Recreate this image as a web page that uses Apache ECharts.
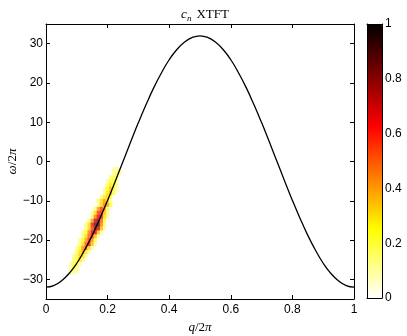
<!DOCTYPE html>
<html>
<head>
<meta charset="utf-8">
<script src="https://cdn.jsdelivr.net/npm/echarts@6/dist/echarts.min.js"></script>
<style>
html, body { margin: 0; padding: 0; background: #fff; }
#chart { width: 407px; height: 336px; }
</style>
</head>
<body>
<div id="chart"></div>
<script>
// dispersion curve
const qValues = [0, 0.025, 0.05, 0.075, 0.1, 0.125, 0.15, 0.175, 0.2, 0.225, 0.25,
  0.275, 0.3, 0.325, 0.35, 0.375, 0.4, 0.425, 0.45, 0.475, 0.5,
  0.525, 0.55, 0.575, 0.6, 0.625, 0.65, 0.675, 0.7, 0.725, 0.75,
  0.775, 0.8, 0.825, 0.85, 0.875, 0.9, 0.925, 0.95, 0.975, 1]
const omegaValues = [-32, -31.6, -30.4, -28.5, -25.9, -22.6, -18.8, -14.5, -9.9, -5, 0,
  5, 9.9, 14.5, 18.8, 22.6, 25.9, 28.5, 30.4, 31.6, 32,
  31.6, 30.4, 28.5, 25.9, 22.6, 18.8, 14.5, 9.9, 5, 0,
  -5, -9.9, -14.5, -18.8, -22.6, -25.9, -28.5, -30.4, -31.6, -32]

// spectral weight, one row per omega, cells 0.01 wide in q
const blobOmega = [-28, -27, -26, -25, -24, -23, -22, -21, -20, -19, -18, -17, -16, -15,
  -14, -13, -12, -11, -10, -9, -8, -7, -6, -5, -4, -3, -2]
const blobStart = [0.08, 0.08, 0.08, 0.09, 0.09, 0.10, 0.10, 0.11, 0.11, 0.12, 0.12, 0.13, 0.13, 0.14,
  0.15, 0.15, 0.16, 0.17, 0.17, 0.18, 0.19, 0.19, 0.20, 0.20, 0.21, 0.22, 0.22]
const blobWeight = [
  [0.12, 0.15, 0.1],
  [0.12, 0.2, 0.15],
  [0.1, 0.18, 0.25, 0.12],
  [0.15, 0.22, 0.3, 0.15],
  [0.12, 0.22, 0.32, 0.3, 0.12],
  [0.15, 0.3, 0.4, 0.28, 0.1],
  [0.12, 0.25, 0.42, 0.5, 0.3, 0.1],
  [0.15, 0.3, 0.5, 0.62, 0.35, 0.12],
  [0.12, 0.25, 0.4, 0.55, 0.42, 0.18],
  [0.15, 0.3, 0.5, 0.6, 0.35, 0.12],
  [0.12, 0.25, 0.45, 0.65, 0.7, 0.35, 0.12],
  [0.15, 0.3, 0.55, 0.8, 0.7, 0.35, 0.12],
  [0.12, 0.3, 0.6, 0.85, 0.9, 0.45, 0.15],
  [0.15, 0.4, 0.7, 0.8, 0.5, 0.2],
  [0.15, 0.45, 0.68, 0.6, 0.3, 0.12],
  [0.12, 0.3, 0.55, 0.6, 0.35, 0.15],
  [0.15, 0.4, 0.55, 0.4, 0.18],
  [0.12, 0.3, 0.45, 0.4, 0.2],
  [0.15, 0.3, 0.4, 0.3, 0.12],
  [0.15, 0.28, 0.32, 0.2],
  [0.12, 0.3, 0.35, 0.2],
  [0.12, 0.25, 0.35, 0.22, 0.1],
  [0.15, 0.28, 0.25, 0.12],
  [0.12, 0.22, 0.25, 0.12],
  [0.15, 0.2, 0.15],
  [0.12, 0.18, 0.12],
  [0.1, 0.12, 0.1]
]

const yTicks = [-30, -20, -10, 0, 10, 20, 30]
const cbTicks = [0, 0.2, 0.4, 0.6, 0.8, 1]
const hotColors = ['#ffffff', '#ffff80', '#ffff00', '#ffaa00', '#ff5500',
  '#ff0000', '#aa0000', '#550000', '#000000']

const cells = []
blobOmega.forEach((w, r) => {
  blobWeight[r].forEach((v, i) => {
    const q = Math.round((blobStart[r] + i * 0.01) * 1000) / 1000
    cells.push([q, w, v])
  })
})

const minus = v => String(v).replace('-', '\u2212')
const serif = 'Liberation Serif'
const sans = 'Liberation Sans'

const chart = echarts.init(document.getElementById('chart'))

const tickCfg = { inside: true, length: 4, lineStyle: { color: '#000' } }
const lineCfg = { show: true, onZero: false, lineStyle: { color: '#000', width: 1 } }
const labelCfg = { color: '#000', fontFamily: sans, fontSize: 12 }
const hidden = { show: false }

chart.setOption({
  animation: false,
  title: {
    text: '{i|c}{s|n} {r|XTFT}',
    left: 200,
    textAlign: 'center',
    top: 1,
    textStyle: {
      fontWeight: 'normal',
      rich: {
        i: { fontFamily: serif, fontStyle: 'italic', fontWeight: 'normal', fontSize: 13, color: '#000' },
        s: { fontFamily: serif, fontStyle: 'italic', fontWeight: 'normal', fontSize: 9, color: '#000', padding: [7, 0, 0, 0] },
        r: { fontFamily: serif, fontWeight: 'normal', fontSize: 13, color: '#000' }
      }
    }
  },
  grid: [
    { left: 46, top: 24, width: 308, height: 275, outerBoundsMode: 'none' },
    { left: 367, top: 24, width: 15, height: 274, outerBoundsMode: 'none' }
  ],
  xAxis: [
    {
      type: 'value', gridIndex: 0, min: 0, max: 1, interval: 0.2,
      axisLine: lineCfg, axisTick: tickCfg, splitLine: hidden,
      axisLabel: Object.assign({ margin: 5 }, labelCfg),
      name: '{i|q}/2{i|π}', nameLocation: 'middle', nameGap: 22, nameMoveOverlap: false,
      nameTextStyle: {
        fontFamily: serif, fontSize: 13, color: '#000',
        rich: { i: { fontFamily: serif, fontStyle: 'italic', fontSize: 13, color: '#000' } }
      }
    },
    {
      type: 'value', gridIndex: 0, position: 'top', min: 0, max: 1, interval: 0.2,
      axisLine: lineCfg, axisTick: tickCfg, axisLabel: hidden, splitLine: hidden
    },
    {
      type: 'value', gridIndex: 1, min: 0, max: 1, z: 10,
      axisLine: lineCfg, axisTick: hidden, axisLabel: hidden, splitLine: hidden
    },
    {
      type: 'value', gridIndex: 1, position: 'top', min: 0, max: 1, z: 10,
      axisLine: lineCfg, axisTick: hidden, axisLabel: hidden, splitLine: hidden
    }
  ],
  yAxis: [
    {
      type: 'value', gridIndex: 0, min: -35, max: 35,
      axisLine: lineCfg,
      axisTick: Object.assign({ customValues: yTicks }, tickCfg),
      splitLine: hidden,
      axisLabel: Object.assign({ customValues: yTicks, margin: 3, formatter: minus }, labelCfg),
      name: '{i|ω}/2{i|π}', nameLocation: 'middle', nameGap: 27, nameMoveOverlap: false,
      nameTextStyle: {
        fontFamily: serif, fontSize: 13, color: '#000',
        rich: { i: { fontFamily: serif, fontStyle: 'italic', fontSize: 13, color: '#000' } }
      }
    },
    {
      type: 'value', gridIndex: 0, position: 'right', min: -35, max: 35,
      axisLine: lineCfg,
      axisTick: Object.assign({ customValues: yTicks }, tickCfg),
      axisLabel: hidden, splitLine: hidden
    },
    {
      type: 'value', gridIndex: 1, position: 'right', min: 0, max: 1, interval: 0.2, z: 10,
      axisLine: lineCfg, axisTick: hidden, splitLine: hidden,
      axisLabel: Object.assign({ customValues: cbTicks, margin: 3 }, labelCfg)
    },
    {
      type: 'value', gridIndex: 1, position: 'left', min: 0, max: 1, z: 10,
      axisLine: lineCfg, axisTick: hidden, axisLabel: hidden, splitLine: hidden
    }
  ],
  visualMap: {
    type: 'continuous',
    min: 0, max: 1,
    dimension: 2,
    seriesIndex: 0,
    orient: 'vertical',
    left: 367, top: 24,
    itemWidth: 15, itemHeight: 274,
    padding: 0,
    calculable: false,
    text: null,
    inRange: { color: hotColors }
  },
  series: [
    {
      type: 'scatter',
      xAxisIndex: 0, yAxisIndex: 0,
      symbol: 'rect',
      symbolSize: [3.3, 4.2],
      data: cells,
      silent: true
    },
    {
      type: 'line',
      xAxisIndex: 0, yAxisIndex: 0,
      data: qValues.map((q, i) => [q, omegaValues[i]]),
      smooth: true,
      showSymbol: false,
      lineStyle: { color: '#000', width: 1.3 },
      silent: true
    }
  ]
})
</script>
</body>
</html>
